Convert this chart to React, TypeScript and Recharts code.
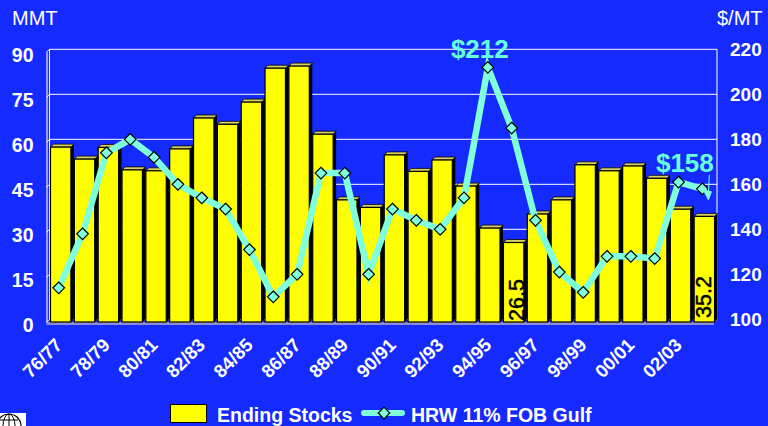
import { Bar, CartesianGrid, ComposedChart, LabelList, Legend, Line, XAxis, YAxis } from "recharts";

const SEASONS = [
  "76/77", "77/78", "78/79", "79/80", "80/81", "81/82", "82/83", "83/84", "84/85", "85/86",
  "86/87", "87/88", "88/89", "89/90", "90/91", "91/92", "92/93", "93/94", "94/95", "95/96",
  "96/97", "97/98", "98/99", "99/00", "00/01", "01/02", "02/03", "03/04",
];
const ENDING_STOCKS = [
  58.3, 54.3, 58.2, 50.7, 50.4, 57.7, 68, 65.9, 73.3, 84.6, 85.3, 62.6, 40.7, 38.2,
  55.7, 50.2, 54, 45.3, 31.3, 26.5, 36, 40.7, 52.4, 50.4, 52, 47.9, 37.6, 35.2,
];
const HRW_PRICE = [
  114, 138, 174, 180, 172, 160, 154, 149, 131, 110, 120, 165, 165, 120,
  149, 144, 140, 154, 212, 185, 144, 121, 112, 128, 128, 127, 161, 158,
];
const STOCK_TICKS = [0, 15, 30, 45, 60, 75, 90];
const PRICE_TICKS = [100, 120, 140, 160, 180, 200, 220];
const STOCK_LABELS: Record<number, string> = { 19: "26.5", 27: "35.2" };
const PRICE_LABELS: Record<number, string> = { 18: "$212", 27: "$158" };

const data = SEASONS.map((season, i) => ({
  season,
  stocks: ENDING_STOCKS[i],
  price: HRW_PRICE[i],
}));

const BLUE = "#142aff";
const AQUA = "#7fffdc";
const LABEL_AQUA = "#66ffd9";
const FONT = "'Liberation Sans', Arial, sans-serif";

function Bar3D({ x, y, width, height }: any) {
  const left = x - 1;
  const w = width;
  const d = 3;
  return (
    <g>
      <path
        d={`M${left + w} ${y} l${d} ${-d} v${height} l${-d} ${d} z`}
        fill="#000"
      />
      <path
        d={`M${left} ${y} l${d} ${-d} h${w} l${-d} ${d} z`}
        fill="#d8d060"
        stroke="#000"
        strokeWidth={0.8}
      />
      <rect x={left} y={y} width={w} height={height} fill="#ffff00" stroke="#000" strokeWidth={1.2} />
    </g>
  );
}

function Diamond({ cx, cy }: any) {
  return (
    <path
      d={`M${cx} ${cy - 5.8} L${cx + 5.8} ${cy} L${cx} ${cy + 5.8} L${cx - 5.8} ${cy} Z`}
      fill={AQUA}
      stroke="#000"
      strokeWidth={1.2}
    />
  );
}

function SeasonTick({ x, y, payload, index }: any) {
  if (index % 2 !== 0) return null;
  return (
    <text
      x={x}
      y={y}
      transform={`rotate(-45 ${x} ${y})`}
      textAnchor="end"
      dx={-12}
      dy={14.7}
      fill="#fff"
      fontFamily={FONT}
      fontWeight="bold"
      fontSize={18.5}
    >
      {payload.value}
    </text>
  );
}

function StockValueLabel({ x, y, width, height, index }: any) {
  const text = STOCK_LABELS[index];
  if (!text) return null;
  const last = index === SEASONS.length - 1;
  const px = x + width / 2 + (last ? 6 : 9);
  const py = y + height - (last ? 4 : 1);
  return (
    <text
      x={px}
      y={py}
      transform={`rotate(-90 ${px} ${py})`}
      fill="#000"
      stroke="#000"
      strokeWidth={0.5}
      fontFamily={FONT}
      fontSize={21.5}
    >
      {text}
    </text>
  );
}

function PriceLabel({ x, y, index }: any) {
  const text = PRICE_LABELS[index];
  if (!text) return null;
  const last = index === SEASONS.length - 1;
  return (
    <g>
      <text
        x={last ? x - 17.5 : x - 8}
        y={last ? y - 17 : y - 9}
        textAnchor="middle"
        fill={LABEL_AQUA}
        fontFamily={FONT}
        fontWeight="bold"
        fontSize={26}
      >
        {text}
      </text>
      {last && (
        <path
          d={`M${x + 7} ${y - 14} L${x + 6} ${y + 5} M${x + 1} ${y + 1} L${x + 9} ${y + 3} L${x + 6} ${y + 11} Z`}
          stroke={AQUA}
          fill={AQUA}
          strokeWidth={1}
        />
      )}
    </g>
  );
}

function LegendContent() {
  const text = {
    position: "absolute" as const,
    top: 5,
    color: "#fff",
    fontFamily: FONT,
    fontWeight: "bold",
    fontSize: 19.5,
    lineHeight: "21px",
    whiteSpace: "nowrap" as const,
  };
  return (
    <div style={{ position: "relative", width: 768, height: 26 }}>
      <div style={{ position: "absolute", left: 170, top: 4, width: 37, height: 19, background: "#ffff00", border: "1px solid #000", boxSizing: "border-box" }} />
      <span style={{ ...text, left: 217 }}>Ending Stocks</span>
      <svg style={{ position: "absolute", left: 360, top: 2 }} width={48} height={22}>
        <line x1={4} x2={42} y1={11} y2={11} stroke={AQUA} strokeWidth={6} strokeLinecap="round" />
        <Diamond cx={24} cy={11} />
      </svg>
      <span style={{ ...text, left: 411 }}>HRW 11% FOB Gulf</span>
    </div>
  );
}

function WallAndFloor() {
  const left = 49.5;
  const right = 717;
  const top = 49.3;
  const bottom = 319.3;
  const step = (bottom - top) / 6;
  return (
    <g>
      <path d={`M${left - 2.5} ${top + 3} V${bottom + 4}`} stroke="#9a9ad8" strokeWidth={2} fill="none" />
      <path d={`M${left} ${top} V${bottom}`} stroke="#fff" strokeWidth={1} fill="none" />
      {STOCK_TICKS.map((t, i) => (
        <path key={t} d={`M${left} ${top + i * step} l-3 3`} stroke="#fff" strokeWidth={1} fill="none" />
      ))}
      <path d={`M${right} ${bottom} l-3 3`} stroke="#fff" strokeWidth={1} fill="none" />
      <path d={`M${left - 3} 323.5 H${right - 3}`} stroke="#8d8dd0" strokeWidth={3} fill="none" />
    </g>
  );
}

export default function App() {
  return (
    <div style={{ position: "absolute", left: 0, top: 0, width: 768, height: 426, background: BLUE, overflow: "hidden" }}>
      <span style={{ position: "absolute", left: 12, top: 7, color: "#fff", fontFamily: FONT, fontSize: 20 }}>MMT</span>
      <span style={{ position: "absolute", left: 717, top: 7, color: "#fff", fontFamily: FONT, fontSize: 20 }}>$/MT</span>
      <ComposedChart
        width={768}
        height={426}
        data={data}
        margin={{ top: 49.3, right: 0, bottom: 0, left: 0 }}
      >
        <CartesianGrid vertical yAxisId="price" verticalPoints={[717]} stroke="#fff" strokeWidth={1} />
        <WallAndFloor />
        <XAxis xAxisId="bars" dataKey="season" interval={0} axisLine={false} tickLine={false} tick={<SeasonTick />} height={80.7} />
        <XAxis xAxisId="line" dataKey="season" hide padding={{ left: -2.7, right: 2.7 }} />
        <YAxis
          yAxisId="stocks"
          domain={[0, 90]}
          ticks={STOCK_TICKS}
          width={49.5}
          padding={{ top: 2.7, bottom: -2.7 }}
          axisLine={false}
          tickLine={false}
          tickMargin={0}
          tick={{ fill: "#fff", fontFamily: FONT, fontWeight: "bold", fontSize: 19.5, dx: -10, dy: 3 }}
        />
        <YAxis
          yAxisId="price"
          orientation="right"
          domain={[100, 220]}
          ticks={PRICE_TICKS}
          width={51}
          axisLine={false}
          tickLine={false}
          tickMargin={0}
          tick={{ fill: "#fff", fontFamily: FONT, fontWeight: "bold", fontSize: 19, dx: 7 }}
        />
        <Bar
          xAxisId="bars"
          yAxisId="stocks"
          dataKey="stocks"
          name="Ending Stocks"
          barSize={20.4}
          shape={<Bar3D />}
          isAnimationActive={false}
        >
          <LabelList dataKey="stocks" content={<StockValueLabel />} />
        </Bar>
        <Line
          xAxisId="line"
          yAxisId="price"
          dataKey="price"
          name="HRW 11% FOB Gulf"
          stroke={AQUA}
          strokeWidth={6.5}
          dot={<Diamond />}
          activeDot={false}
          isAnimationActive={false}
        >
          <LabelList dataKey="price" content={<PriceLabel />} />
        </Line>
        <Legend content={<LegendContent />} verticalAlign="bottom" wrapperStyle={{ left: 0, bottom: 0, width: 768, height: 26 }} />
      </ComposedChart>
      <svg style={{ position: "absolute", left: 0, top: 413 }} width={26} height={13}>
        <rect width={26} height={13} fill="#fff" />
        <circle cx={9} cy={13} r={12} fill="#fff" stroke="#000" strokeWidth={1.2} />
        <ellipse cx={9} cy={13} rx={6} ry={12} fill="none" stroke="#000" />
        <path d="M9 1 V13 M0 7 H18" stroke="#000" />
      </svg>
    </div>
  );
}
